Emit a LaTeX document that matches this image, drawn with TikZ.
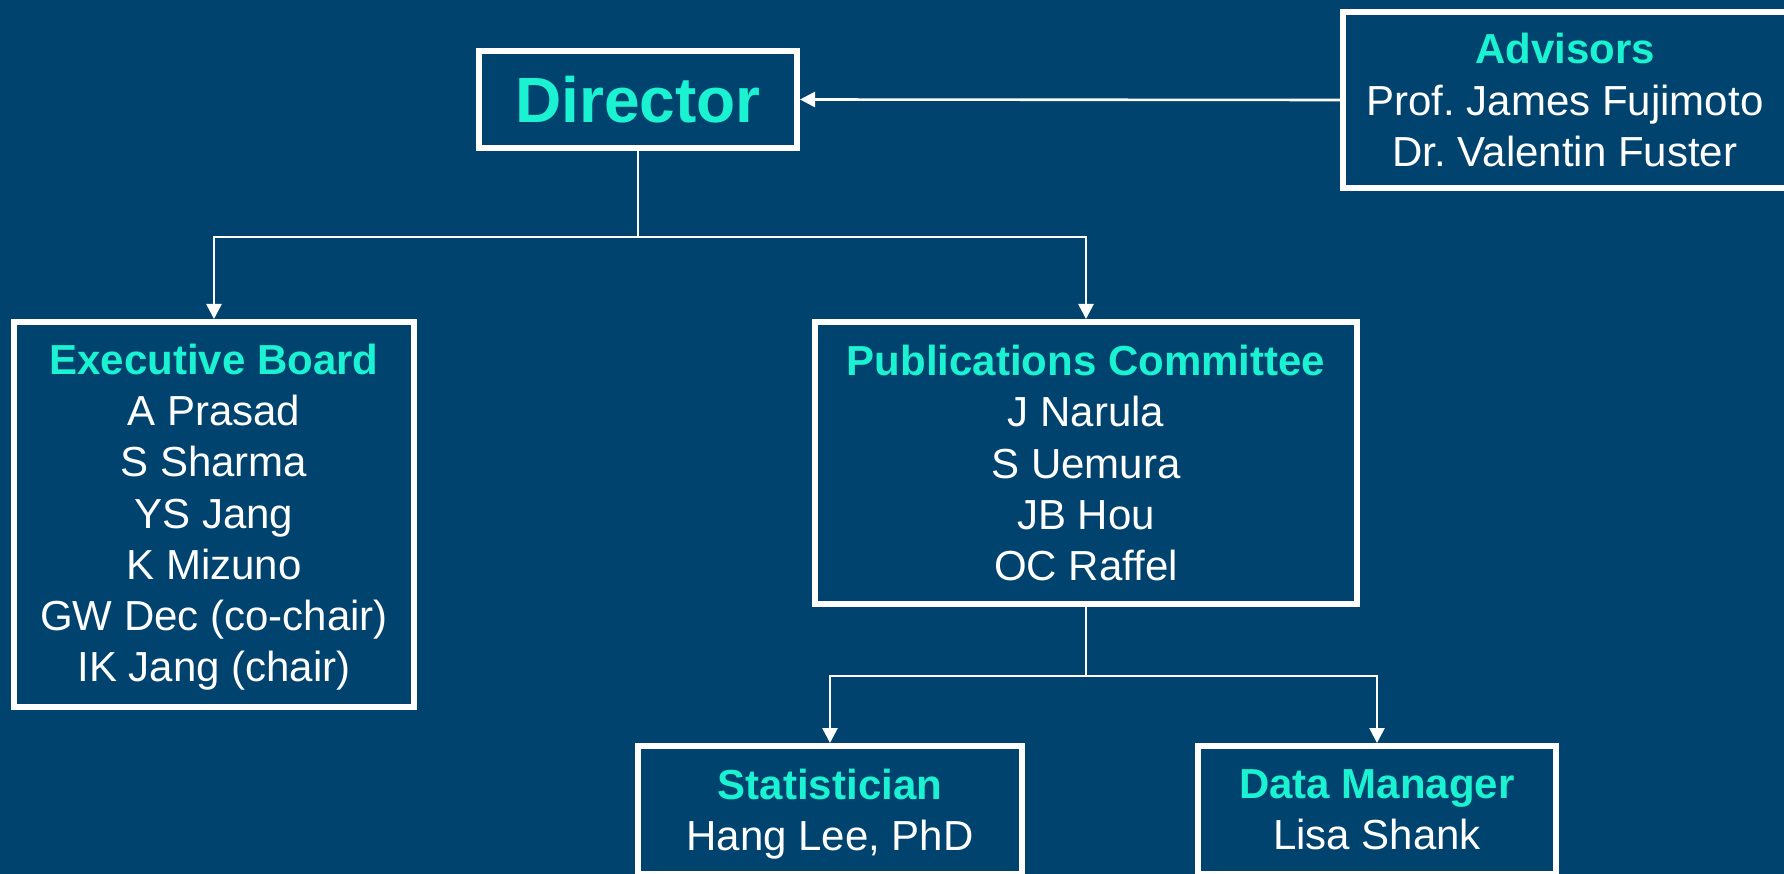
\documentclass[tikz,border=0pt]{standalone}
\usepackage{fontspec}
\setmainfont{Liberation Sans}
\usepackage{xcolor}
\usetikzlibrary{arrows.meta}
\definecolor{navy}{RGB}{0,67,110}
\definecolor{aqua}{RGB}{26,242,210}
\newcommand{\boxhead}[1]{\textcolor{aqua}{\bfseries #1}}
\begin{document}
\begin{tikzpicture}[x=1pt,y=-1pt,>={Triangle[length=15pt,width=15pt]},
    box/.style={draw=white,line width=6pt,inner sep=0pt,align=center,text=white,
      font=\fontsize{42}{51.2}\selectfont},
    link/.style={draw=white,line width=2.6pt}]
  \fill[navy] (0,0) rectangle (1784,874);
  \useasboundingbox (0,0) rectangle (1784,874);
  \clip (0,0) rectangle (1784,874);
  \node[box,minimum width=318pt,minimum height=97pt,
        font=\fontsize{64}{70}\selectfont\bfseries,text=aqua] (dir) at (638,99.5) {Director};
  \node[box,minimum width=444pt,minimum height=176pt] (adv) at (1565,100)
    {\boxhead{Advisors}\\Prof.\ James Fujimoto\\Dr.\ Valentin Fuster};
  \node[box,minimum width=400pt,minimum height=385pt] (exec) at (214,514.5)
    {\rule{0pt}{36pt}\boxhead{Executive Board}\\A Prasad\\S Sharma\\YS Jang\\K Mizuno\\GW Dec (co-chair)\\IK Jang (chair)};
  \node[box,minimum width=542pt,minimum height=282pt] (pub) at (1086,463)
    {\boxhead{Publications Committee}\\J Narula\\S Uemura\\JB Hou\\OC Raffel};
  \node[box,minimum width=384pt,minimum height=128pt] (stat) at (830,810)
    {\rule{0pt}{39pt}\boxhead{Statistician}\\Hang Lee, PhD};
  \node[box,minimum width=358pt,minimum height=128pt] (data) at (1377,810)
    {\boxhead{Data Manager}\\Lisa Shank};
  \coordinate (j1) at (638,237);
  \coordinate (j2) at (1086,676);
  \draw[link,->] (adv.west) -- (dir.east);
  \draw[link] (dir.south) -- (j1);
  \draw[link,->] (j1) -| (exec.north);
  \draw[link,->] (j1) -| (pub.north);
  \draw[link] (pub.south) -- (j2);
  \draw[link,->] (j2) -| (stat.north);
  \draw[link,->] (j2) -| (data.north);
\end{tikzpicture}
\end{document}
